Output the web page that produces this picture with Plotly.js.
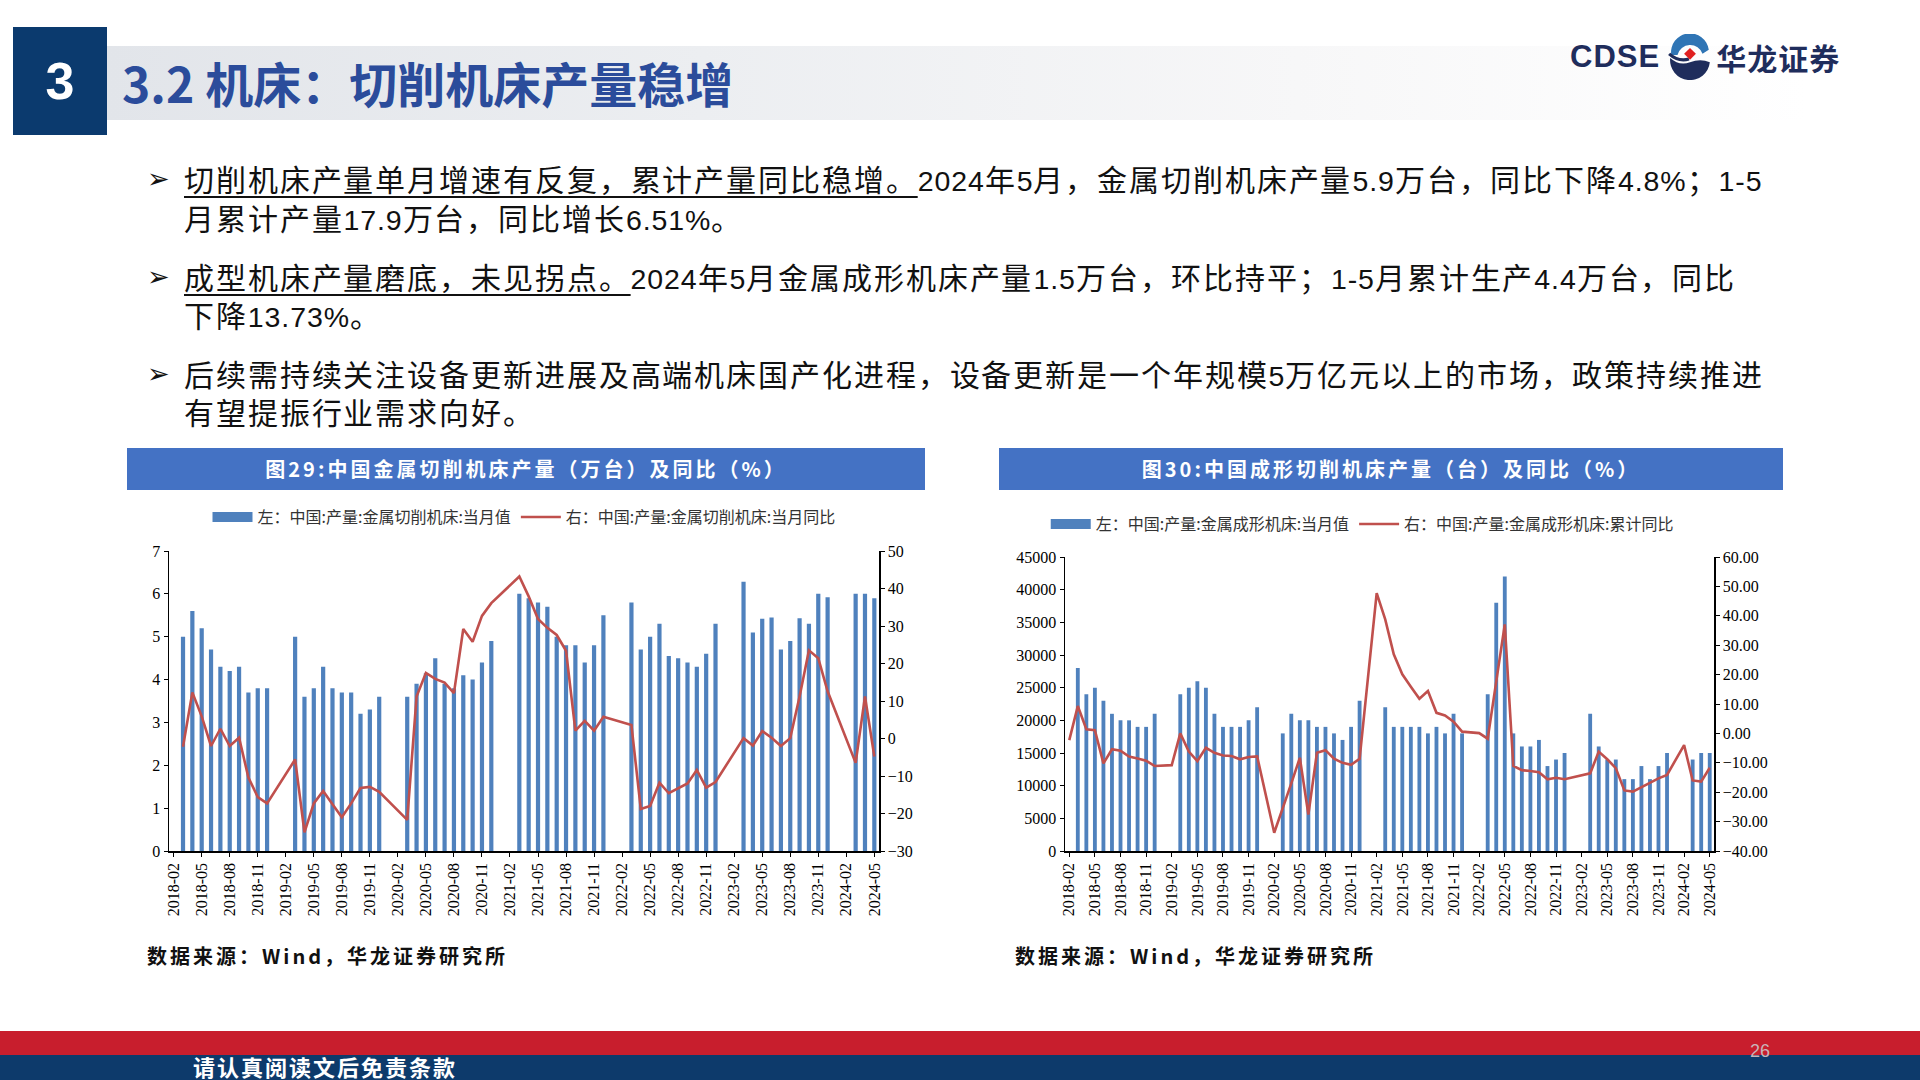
<!DOCTYPE html>
<html><head><meta charset="utf-8">
<script src="https://cdn.plot.ly/plotly-3.0.1.min.js"></script>
<style>
@font-face{font-family:"BodyCJK";src:local("Noto Sans CJK SC"),local("Noto Sans CJK SC Regular"),local("NotoSansCJKsc-Regular");
  ascent-override:90%;descent-override:16%;line-gap-override:0%;}
html,body{margin:0;padding:0;width:1920px;height:1080px;overflow:hidden;background:#fff;font-family:"Noto Sans CJK SC","Noto Sans",sans-serif;}
.abs{position:absolute;}
#numbox{left:13px;top:27px;width:94px;height:108px;background:#0b3a6e;color:#fff;font:bold 52px "Liberation Sans",Arial,sans-serif;display:flex;align-items:center;justify-content:center;}
#titlebar{left:107px;top:46px;width:1700px;height:74px;background:linear-gradient(to right,#e2e5ea 0%,#eceef1 35%,#f7f7f8 70%,#ffffff 100%);}
#title{left:122px;top:46px;height:74px;line-height:72px;font-weight:bold;font-size:48px;color:#2b4c9b;white-space:nowrap;}
#logo{left:1570px;top:34px;height:46px;display:flex;align-items:center;white-space:nowrap;color:#1f2d5c;}
.ln{position:absolute;left:184px;height:38px;line-height:38px;font-family:"BodyCJK","Noto Sans CJK SC",sans-serif;font-size:30px;letter-spacing:1.9px;color:#111;white-space:nowrap;}
.n{font-family:"Liberation Sans",Arial,sans-serif;font-size:28.5px;letter-spacing:0.9px;}
.arrow{position:absolute;left:147px;height:38px;line-height:38px;font-size:27px;font-family:"DejaVu Sans",sans-serif;color:#111;}
.u{text-decoration:underline;text-decoration-thickness:1.5px;text-underline-offset:5px;}
.cbar{position:absolute;top:448px;height:42px;background:#4472c4;color:#fff;font-weight:bold;font-size:20px;letter-spacing:3px;line-height:42px;text-align:center;white-space:nowrap;}
.src{position:absolute;top:941px;font-weight:bold;font-size:20px;letter-spacing:3px;color:#111;white-space:nowrap;}
#red{left:0;top:1031px;width:1920px;height:24px;background:#c81e2d;}
#navy{left:0;top:1055px;width:1920px;height:25px;background:#0d3a6b;}
#foot{left:193px;top:1052px;height:28px;line-height:28px;color:#fff;font-weight:bold;font-size:22px;letter-spacing:2px;white-space:nowrap;}
#pg{left:1750px;top:1041px;font-size:18px;color:#c9b3b8;font-family:"Liberation Sans",sans-serif;}
</style></head>
<body>
<div id="titlebar" class="abs"></div>
<div id="numbox" class="abs">3</div>
<div id="title" class="abs">3.2 机床：切削机床产量稳增</div>
<div id="logo" class="abs">
  <span style="font:bold 31px 'Liberation Sans',Arial,sans-serif;letter-spacing:1px;">CDSE</span>
  <svg width="48" height="46" viewBox="0 0 46 44" style="margin:0 2px 0 6px">
    <path d="M5,20 A18,18 0 0 1 41,15 L35,19 A12.5,12.5 0 0 0 11,20 Z" fill="#2f75b5"/>
    <path d="M4,23 Q13,31 23,27 Q33,23 42,27 A19,19 0 0 1 4,23Z" fill="#1f2d5c"/>
    <path d="M3,19 Q12,27 22,24" stroke="#1f2d5c" stroke-width="3" fill="none"/>
    <rect x="19" y="15" width="8" height="8" fill="#e02020" transform="rotate(45 23 19)"/>
  </svg>
  <span style="font-weight:bold;font-size:30px;letter-spacing:1px;">华龙证券</span>
</div>

<div class="arrow" style="top:160px">➢</div>
<div class="ln" style="top:161px"><span class="u">切削机床产量单月增速有反复，累计产量同比稳增。</span><span class="n">2024</span>年<span class="n">5</span>月，金属切削机床产量<span class="n">5.9</span>万台，同比下降<span class="n">4.8%</span>；<span class="n">1-5</span></div>
<div class="ln" style="top:200px">月累计产量<span class="n">17.9</span>万台，同比增长<span class="n">6.51%</span>。</div>
<div class="arrow" style="top:258px">➢</div>
<div class="ln" style="top:259px"><span class="u">成型机床产量磨底，未见拐点。</span><span class="n">2024</span>年<span class="n">5</span>月金属成形机床产量<span class="n">1.5</span>万台，环比持平；<span class="n">1-5</span>月累计生产<span class="n">4.4</span>万台，同比</div>
<div class="ln" style="top:297px">下降<span class="n">13.73%</span>。</div>
<div class="arrow" style="top:355px">➢</div>
<div class="ln" style="top:356px">后续需持续关注设备更新进展及高端机床国产化进程，设备更新是一个年规模<span class="n">5</span>万亿元以上的市场，政策持续推进</div>
<div class="ln" style="top:394px">有望提振行业需求向好。</div>

<div class="cbar" style="left:127px;width:798px;">图29:中国金属切削机床产量（万台）及同比（%）</div>
<div class="cbar" style="left:999px;width:784px;">图30:中国成形切削机床产量（台）及同比（%）</div>

<div id="c1" class="abs" style="left:127px;top:495px;width:800px;height:430px;"></div>
<div id="c2" class="abs" style="left:999px;top:495px;width:784px;height:430px;"></div>

<div class="src" style="left:147px">数据来源：Wind，华龙证券研究所</div>
<div class="src" style="left:1015px">数据来源：Wind，华龙证券研究所</div>

<div id="red" class="abs"></div>
<div id="navy" class="abs"></div>
<div id="foot" class="abs">请认真阅读文后免责条款</div>
<div id="pg" class="abs">26</div>

<script>
// ---- data ----
const months = [
 "2018-02","2018-03","2018-04","2018-05","2018-06","2018-07","2018-08","2018-09","2018-10","2018-11","2018-12",
 "2019-01","2019-02","2019-03","2019-04","2019-05","2019-06","2019-07","2019-08","2019-09","2019-10","2019-11","2019-12",
 "2020-01","2020-02","2020-03","2020-04","2020-05","2020-06","2020-07","2020-08","2020-09","2020-10","2020-11","2020-12",
 "2021-01","2021-02","2021-03","2021-04","2021-05","2021-06","2021-07","2021-08","2021-09","2021-10","2021-11","2021-12",
 "2022-01","2022-02","2022-03","2022-04","2022-05","2022-06","2022-07","2022-08","2022-09","2022-10","2022-11","2022-12",
 "2023-01","2023-02","2023-03","2023-04","2023-05","2023-06","2023-07","2023-08","2023-09","2023-10","2023-11","2023-12",
 "2024-01","2024-02","2024-03","2024-04","2024-05"];
const tickMonths = ["2018-02","2018-05","2018-08","2018-11","2019-02","2019-05","2019-08","2019-11",
 "2020-02","2020-05","2020-08","2020-11","2021-02","2021-05","2021-08","2021-11",
 "2022-02","2022-05","2022-08","2022-11","2023-02","2023-05","2023-08","2023-11","2024-02","2024-05"];

// 图29: 金属切削机床 当月值(万台) / 当月同比(%)
const cuttingOutput = [
 null,5.0,5.6,5.2,4.7,4.3,4.2,4.3,3.7,3.8,3.8,
 null,null,5.0,3.6,3.8,4.3,3.8,3.7,3.7,3.2,3.3,3.6,
 null,null,3.6,3.9,4.15,4.5,3.9,3.8,4.1,4.0,4.4,4.9,
 null,null,6.0,5.9,5.8,5.7,5.0,4.8,4.8,4.4,4.8,5.5,
 null,null,5.8,4.7,5.0,5.3,4.55,4.5,4.4,4.3,4.6,5.3,
 null,null,6.28,5.1,5.42,5.45,4.7,4.9,5.43,5.3,6.0,5.92,
 null,null,6.0,6.0,5.9];
const cuttingYoY = [
 null,-2.2,12.3,5.9,-2.0,2.6,-2.0,0.2,-10.4,-15.6,-17.3,
 null,null,-5.6,-25.0,-17.3,-14.0,-17.5,-21.0,-17.3,-13.2,-12.9,-14.2,
 null,null,-21.7,11.2,17.5,15.9,14.9,12.1,29.2,25.8,32.7,36.1,
 null,null,43.2,37.9,31.9,29.5,27.6,23.4,2.1,4.7,2.1,5.8,
 null,null,3.6,-18.8,-18.0,-11.8,-14.6,-13.4,-12.0,-8.4,-13.1,-11.6,
 null,null,0.1,-1.9,2.0,0.2,-2.0,0.1,11.2,23.5,21.4,12.6,
 null,null,-6.5,11.2,-4.8];

// 图30: 金属成形机床 当月值(台) / 累计同比(%)
const formingOutput = [
 null,28000,24000,25000,23000,21000,20000,20000,19000,19000,21000,
 null,null,24000,25000,26000,25000,21000,19000,19000,19000,20000,22000,
 null,null,18000,21000,20000,20000,19000,19000,18000,17000,19000,23000,
 null,null,22000,19000,19000,19000,19000,18000,19000,18000,21000,18000,
 null,null,24000,38000,42000,18000,16000,16000,17000,13000,14000,15000,
 null,null,21000,16000,14000,14000,11000,11000,13000,11000,13000,15000,
 null,null,14000,15000,15000];
const formingCumYoY = [
 -2.3,9.3,1.4,1.1,-10.2,-5.4,-5.9,-7.9,-8.5,-9.3,-11.1,
 null,-10.8,0.0,-6.2,-9.4,-4.9,-6.6,-7.5,-7.7,-8.8,-8.0,-7.8,
 null,-33.8,-25.0,-17.0,-8.3,-27.6,-6.6,-5.7,-8.6,-10.0,-10.7,-8.6,
 null,47.7,38.8,26.9,20.1,15.9,11.8,14.4,7.0,6.1,4.0,0.6,
 null,0.1,-1.8,18.5,37.1,-11.1,-12.5,-12.8,-13.2,-15.6,-15.1,-15.6,
 null,-14.3,-13.6,-6.2,-8.8,-11.8,-19.4,-19.8,-18.3,-16.8,-15.3,-14.1,
 null,-4.0,-16.0,-16.4,-11.7];

const legend1 = ["左：中国:产量:金属切削机床:当月值","右：中国:产量:金属切削机床:当月同比"];
const legend2 = ["左：中国:产量:金属成形机床:当月值","右：中国:产量:金属成形机床:累计同比"];

// ---- styling ----
const BAR = "#4f81bd", LINE = "#c0504d";
const tickFont = {family:"Liberation Serif, Times New Roman, serif", size:16, color:"#000"};

function makeChart(div, bars, line, names, yLeft, yRight, m, legX, legY, leftFmt, rightFmt){
  const traces = [
    {type:"bar", x:months, y:bars, marker:{color:BAR}, showlegend:false, hoverinfo:"skip"},
    {type:"scatter", mode:"lines", x:[months[0]], y:[null], name:names[0], line:{color:BAR, width:10}, showlegend:true},
    {type:"scatter", mode:"lines", x:months, y:line, yaxis:"y2", name:names[1], connectgaps:true,
     line:{color:LINE, width:2.6}, showlegend:true}
  ];
  const layout = {
    width: m.w, height: m.h,
    margin:{l:m.l, r:m.r, t:m.t, b:m.b, autoexpand:false},
    paper_bgcolor:"rgba(0,0,0,0)", plot_bgcolor:"rgba(0,0,0,0)",
    bargap:0.55,
    font:{family:"Noto Sans CJK SC, sans-serif", color:"#333"},
    showlegend:true,
    legend:{orientation:"h", x:legX, xanchor:"center", y:legY, yanchor:"middle",
            font:{size:16, color:"#333", family:"Noto Sans CJK SC, sans-serif"},
            itemwidth:40, tracegroupgap:0, bgcolor:"rgba(0,0,0,0)"},
    xaxis:{type:"category", categoryorder:"array", categoryarray:months,
           tickmode:"array", tickvals:tickMonths, ticktext:tickMonths, tickangle:-90,
           ticks:"outside", ticklen:4, tickcolor:"#000", showline:true, linecolor:"#000", linewidth:1.5,
           showgrid:false, zeroline:false, tickfont:tickFont, range:[-0.5, months.length-0.5], automargin:false},
    yaxis:{range:yLeft.range, dtick:yLeft.dtick, tick0:yLeft.range[0], ticks:"outside", ticklen:4, tickcolor:"#000",
           showline:true, linecolor:"#000", linewidth:1.5, showgrid:false, zeroline:false,
           tickfont:tickFont, tickformat:leftFmt, automargin:false},
    yaxis2:{overlaying:"y", side:"right", range:yRight.range, dtick:yRight.dtick, tick0:yRight.range[0],
           ticks:"outside", ticklen:4, tickcolor:"#000", showline:true, linecolor:"#000", linewidth:1.5,
           showgrid:false, zeroline:false, tickfont:tickFont, tickformat:rightFmt, automargin:false}
  };
  Plotly.newPlot(div, traces, layout, {staticPlot:true, displayModeBar:false});
}

makeChart("c1", cuttingOutput, cuttingYoY, legend1,
  {range:[0,7], dtick:1}, {range:[-30,50], dtick:10},
  {w:800, h:430, l:42, r:48, t:56, b:74}, 0.5, 1.113, "d", "d");
makeChart("c2", formingOutput, formingCumYoY, legend2,
  {range:[0,45000], dtick:5000}, {range:[-40,60], dtick:10},
  {w:784, h:430, l:66, r:69, t:62, b:74}, 0.458, 1.112, "d", ".2f");
</script>
</body></html>
